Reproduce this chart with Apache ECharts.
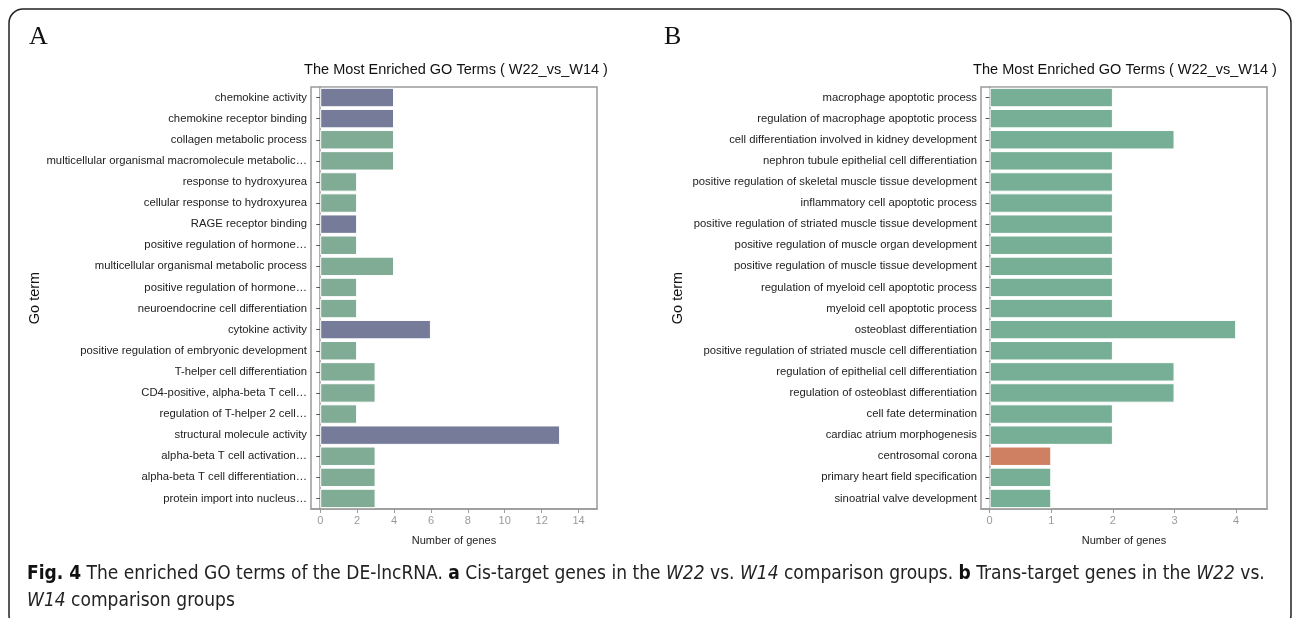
<!DOCTYPE html>
<html><head><meta charset="utf-8">
<script src="https://cdn.jsdelivr.net/npm/echarts@6/dist/echarts.min.js"></script>
<style>html,body{margin:0;padding:0;background:#fff}#c{width:1292px;height:618px}</style>
</head><body><div id="c"></div>
<script>
const termsA = ["chemokine activity","chemokine receptor binding","collagen metabolic process","multicellular organismal macromolecule metabolic…","response to hydroxyurea","cellular response to hydroxyurea","RAGE receptor binding","positive regulation of hormone…","multicellular organismal metabolic process","positive regulation of hormone…","neuroendocrine cell differentiation","cytokine activity","positive regulation of embryonic development","T-helper cell differentiation","CD4-positive, alpha-beta T cell…","regulation of T-helper 2 cell…","structural molecule activity","alpha-beta T cell activation…","alpha-beta T cell differentiation…","protein import into nucleus…"];
const countsA = [4,4,4,4,2,2,2,2,4,2,2,6,2,3,3,2,13,3,3,3];
const typesA = ["MF","MF","BP","BP","BP","BP","MF","BP","BP","BP","BP","MF","BP","BP","BP","BP","MF","BP","BP","BP"];
const termsB = ["macrophage apoptotic process","regulation of macrophage apoptotic process","cell differentiation involved in kidney development","nephron tubule epithelial cell differentiation","positive regulation of skeletal muscle tissue development","inflammatory cell apoptotic process","positive regulation of striated muscle tissue development","positive regulation of muscle organ development","positive regulation of muscle tissue development","regulation of myeloid cell apoptotic process","myeloid cell apoptotic process","osteoblast differentiation","positive regulation of striated muscle cell differentiation","regulation of epithelial cell differentiation","regulation of osteoblast differentiation","cell fate determination","cardiac atrium morphogenesis","centrosomal corona","primary heart field specification","sinoatrial valve development"];
const countsB = [2,2,3,2,2,2,2,2,2,2,2,4,2,3,3,2,2,1,1,1];
const typesB = ["BP","BP","BP","BP","BP","BP","BP","BP","BP","BP","BP","BP","BP","BP","BP","BP","BP","CC","BP","BP"];
const ticksA = [0,2,4,6,8,10,12,14];
const ticksB = [0,1,2,3,4];

const colorsA = {MF:"#757b99", BP:"#80ab94"};
const colorsB = {BP:"#77ae96", CC:"#cf8063"};

function items(vals, types, cmap){
  return vals.map((v,i)=>({value:v, itemStyle:{color:cmap[types[i]]}}));
}
const axisGrey = "#9a9a9a";
const lblFont = "Liberation Sans, Arial, sans-serif";

function xAx(idx, min, max, ticks){
  return {type:"value", gridIndex:idx, min:min, max:max,
    name:"Number of genes", nameLocation:"middle", nameGap:26,
    nameTextStyle:{color:"#222", fontSize:11, fontFamily:lblFont},
    axisLine:{show:true, lineStyle:{color:axisGrey, width:1.5}},
    axisTick:{show:true, length:4, lineStyle:{color:axisGrey}, customValues:ticks},
    axisLabel:{color:"#9a9a9a", fontSize:11, fontFamily:lblFont, margin:6, customValues:ticks},
    splitLine:{show:false}};
}
function yAx(idx, terms, gap){
  return {type:"category", gridIndex:idx, data:terms, inverse:true,
    name:"Go term", nameLocation:"middle", nameGap:gap, nameRotate:90,
    nameTextStyle:{color:"#111", fontSize:14.5, fontFamily:lblFont},
    axisLine:{show:true, lineStyle:{color:axisGrey, width:1.5}},
    axisTick:{show:true, length:4, alignWithLabel:true, lineStyle:{color:"#555"}},
    axisLabel:{color:"#222", fontSize:11.3, fontFamily:lblFont, margin:4, interval:0},
    splitLine:{show:false}};
}

const chart = echarts.init(document.getElementById("c"));
chart.setOption({
  animation:false,
  backgroundColor:"#fff",
  title:[
    {text:"The Most Enriched GO Terms ( W22_vs_W14 )", left:451, top:57, textAlign:"center",
     textStyle:{fontSize:14.5, fontWeight:"normal", color:"#111", fontFamily:lblFont}},
    {text:"The Most Enriched GO Terms ( W22_vs_W14 )", left:1120, top:57, textAlign:"center",
     textStyle:{fontSize:14.5, fontWeight:"normal", color:"#111", fontFamily:lblFont}}
  ],
  grid:[
    {left:311, top:87, width:286, height:422, show:true, borderColor:axisGrey, borderWidth:1.5, backgroundColor:"#fff"},
    {left:981, top:87, width:286, height:422, show:true, borderColor:axisGrey, borderWidth:1.5, backgroundColor:"#fff"}
  ],
  xAxis:[xAx(0,-0.5,15,ticksA), xAx(1,-0.14,4.5,ticksB)],
  yAxis:[yAx(0,termsA,268), yAx(1,termsB,296)],
  series:[
    {type:"bar", xAxisIndex:0, yAxisIndex:0, data:items(countsA,typesA,colorsA), barWidth:"92%",
     itemStyle:{borderColor:"#fff", borderWidth:1}},
    {type:"bar", xAxisIndex:1, yAxisIndex:1, data:items(countsB,typesB,colorsB), barWidth:"92%",
     itemStyle:{borderColor:"#fff", borderWidth:1}}
  ],
  graphic:[
    {type:"rect", shape:{x:9, y:9, width:1282, height:620, r:14}, style:{fill:null, stroke:"#222", lineWidth:1.5}, silent:true},
    {type:"text", left:29, top:24, style:{text:"A", font:"26px 'Liberation Serif', serif", fill:"#111"}},
    {type:"text", left:664, top:24, style:{text:"B", font:"26px 'Liberation Serif', serif", fill:"#111"}},
    {type:"text", left:27, top:561, style:{
      text:"{b|Fig. 4} The enriched GO terms of the DE-lncRNA. {b|a} Cis-target genes in the {i|W22} vs. {i|W14} comparison groups. {b|b} Trans-target genes in the {i|W22} vs.\n{i|W14} comparison groups",
      font:"19px 'Liberation Sans Narrow', 'DejaVu Sans Condensed', 'Open Sans', sans-serif",
      fill:"#222", lineHeight:27,
      rich:{
        b:{font:"bold 19px 'Liberation Sans Narrow', 'DejaVu Sans Condensed', 'Open Sans', sans-serif", fill:"#111", lineHeight:27},
        i:{font:"italic 19px 'Liberation Sans Narrow', 'DejaVu Sans Condensed', 'Open Sans', sans-serif", fill:"#222", lineHeight:27}
      }}}
  ]
});
</script></body></html>
